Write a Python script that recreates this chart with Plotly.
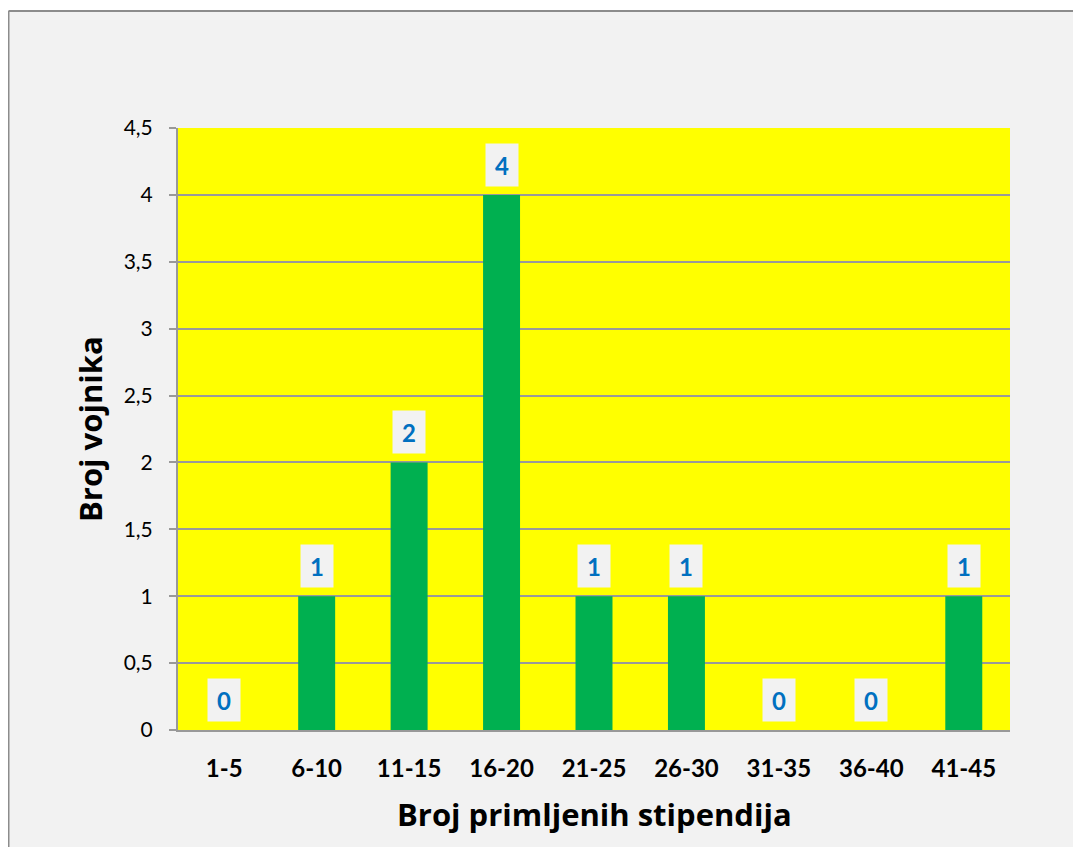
import plotly.graph_objects as go

categories = ["1-5", "6-10", "11-15", "16-20", "21-25", "26-30", "31-35", "36-40", "41-45"]
values = [0, 1, 2, 4, 1, 1, 0, 0, 1]
y_ticks = [0, 0.5, 1, 1.5, 2, 2.5, 3, 3.5, 4, 4.5]
y_tick_labels = ["0", "0,5", "1", "1,5", "2", "2,5", "3", "3,5", "4", "4,5"]
x_title = "Broj primljenih stipendija"
y_title = "Broj vojnika"

FONT = "Lato"
TFONT = "Open Sans"
W, H = 1081, 847
L, T = 170, 120
pw, ph = 832, 602
R, B = W - L - pw, H - T - ph

fig = go.Figure()
fig.add_trace(go.Bar(
    x=categories, y=values, marker=dict(color="#00B050", line=dict(width=0)),
    width=0.4, hoverinfo="skip",
))

for c, v in zip(categories, values):
    fig.add_annotation(
        x=c, y=v, xref="x", yref="y", text=f"<b>{v}</b>", showarrow=False,
        yanchor="bottom", yshift=8, width=30, height=40,
        bgcolor="#F2F2F2", font=dict(family=FONT, size=24, color="#0070C0"),
    )

fig.add_annotation(
    x=0.5, y=-(806 - (T + ph)) / ph, xref="paper", yref="paper", text=f"<b>{x_title}</b>",
    showarrow=False, xanchor="center", yanchor="middle",
    font=dict(family=TFONT, size=31, color="black"),
)
fig.add_annotation(
    x=-(L - 82) / pw, y=0.5, xref="paper", yref="paper", text=f"<b>{y_title}</b>",
    showarrow=False, xanchor="center", yanchor="middle", textangle=-90,
    font=dict(family=TFONT, size=31, color="black"),
)

# white strip above the chart-area frame and the frame lines
fig.add_shape(
    type="rect", xref="paper", yref="paper", layer="above",
    x0=-L / pw - 0.01, x1=(W - L) / pw + 0.01, y0=1 + (T - 3) / ph, y1=1 + T / ph + 0.01,
    line=dict(width=0), fillcolor="white",
)
fig.add_shape(
    type="line", xref="paper", yref="paper",
    x0=-(L - 0.5) / pw, x1=(W - L) / pw + 0.01, y0=1 + (T - 3) / ph, y1=1 + (T - 3) / ph,
    line=dict(color="#8C8C8C", width=2),
)
fig.add_shape(
    type="line", xref="paper", yref="paper",
    x0=-(L - 0.5) / pw, x1=-(L - 0.5) / pw, y0=-B / ph - 0.01, y1=1 + (T - 3) / ph,
    line=dict(color="#8C8C8C", width=2),
)

fig.update_layout(
    width=W, height=H, margin=dict(l=L, r=R, t=T, b=B, autoexpand=False),
    paper_bgcolor="#F2F2F2", plot_bgcolor="#FFFF00", showlegend=False,
    separators=",.", bargap=0.6,
    font=dict(family=FONT, color="black"),
)
fig.update_xaxes(
    showgrid=False, showline=True, linecolor="#999999", linewidth=2,
    tickfont=dict(family=FONT, size=24, color="black"),
    tickprefix="<b>", ticksuffix="</b>", ticks="", ticklabelstandoff=16,
)
fig.update_yaxes(
    range=[0, 4.5], tickvals=y_ticks, ticktext=y_tick_labels,
    showgrid=True, gridcolor="#999999", gridwidth=2,
    showline=True, linecolor="#999999", linewidth=2,
    ticks="outside", ticklen=7, tickcolor="#999999", tickwidth=2,
    tickfont=dict(family=FONT, size=21, color="black"), ticklabelstandoff=12,
    zeroline=False,
)
fig.write_html("out.html")
